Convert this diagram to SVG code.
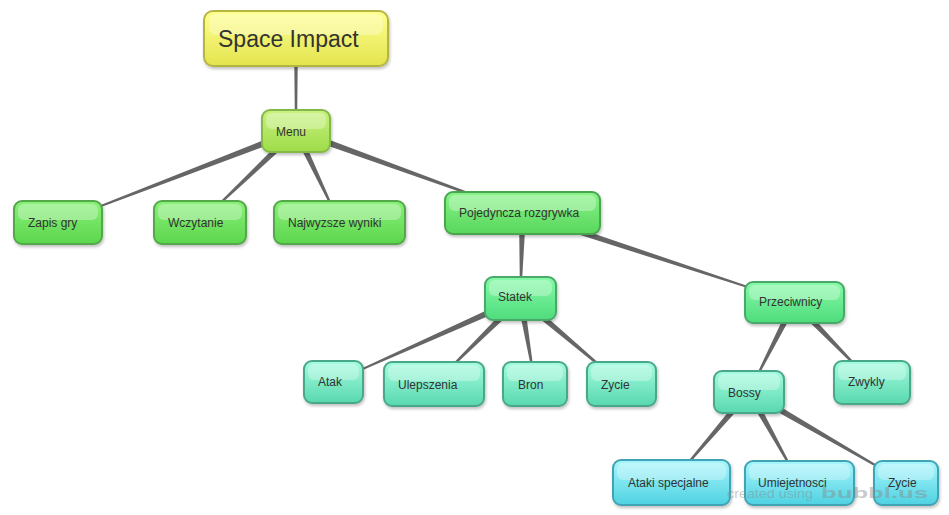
<svg xmlns="http://www.w3.org/2000/svg" width="949" height="515" viewBox="0 0 949 515">
<style>
text{font-family:"Liberation Sans",Arial,sans-serif;font-size:12px;fill:#333}
.n{stroke-width:2}
.g{fill:#fff;fill-opacity:0.3}
.c polygon{fill:#666}
.yel{fill:url(#gy);stroke:#b5b542}
.lim{fill:url(#gl);stroke:#86b84a}
.grn{fill:url(#gg);stroke:#52a84a}
.grp{fill:url(#gp);stroke:#4aa650}
.mnt{fill:url(#gm);stroke:#48a86a}
.tea{fill:url(#gt);stroke:#4aa88a}
.cya{fill:url(#gc);stroke:#40a4b4}
.wm{fill:#888;fill-opacity:0.45}
</style>
<defs>
<filter id="sh" x="-10%" y="-10%" width="130%" height="140%"><feDropShadow dx="1" dy="2" stdDeviation="1.5" flood-color="#000" flood-opacity="0.25"/></filter>
<linearGradient id="gy" x1="0" y1="0" x2="0" y2="1"><stop offset="0" stop-color="#ffff90"/><stop offset="1" stop-color="#e4e44e"/></linearGradient>
<linearGradient id="gl" x1="0" y1="0" x2="0" y2="1"><stop offset="0" stop-color="#c8f280"/><stop offset="1" stop-color="#9edc48"/></linearGradient>
<linearGradient id="gg" x1="0" y1="0" x2="0" y2="1"><stop offset="0" stop-color="#8af07a"/><stop offset="1" stop-color="#5cd64c"/></linearGradient>
<linearGradient id="gp" x1="0" y1="0" x2="0" y2="1"><stop offset="0" stop-color="#88f488"/><stop offset="1" stop-color="#58d65c"/></linearGradient>
<linearGradient id="gm" x1="0" y1="0" x2="0" y2="1"><stop offset="0" stop-color="#88faa8"/><stop offset="1" stop-color="#4edc7c"/></linearGradient>
<linearGradient id="gt" x1="0" y1="0" x2="0" y2="1"><stop offset="0" stop-color="#a6fce0"/><stop offset="1" stop-color="#58d8ae"/></linearGradient>
<linearGradient id="gc" x1="0" y1="0" x2="0" y2="1"><stop offset="0" stop-color="#aaf6fc"/><stop offset="1" stop-color="#4ed2e2"/></linearGradient>
</defs>
<rect width="949" height="515" fill="#fff"/>
<g id="connectors" class="c">
<polygon points="298,38.5 297,131 295,131 294,38.5"/>
<polygon points="294.74,127.73 57.82,222.03 58.18,222.97 297.26,134.27"/>
<polygon points="293.59,128.47 199.66,222.14 200.34,222.86 298.41,133.53"/>
<polygon points="292.84,132.5 339.05,222.71 339.95,222.29 299.16,129.5"/>
<polygon points="294.81,134.29 522.33,213.47 522.67,212.53 297.19,127.71"/>
<polygon points="519,212.92 520,298.49 521,298.51 526,213.08"/>
<polygon points="521.41,216.33 794.34,302.98 794.66,302.03 523.59,209.67"/>
<polygon points="519.07,295.3 333.3,381.54 333.7,382.46 521.93,301.7"/>
<polygon points="518.04,296.01 433.65,383.64 434.35,384.36 522.96,300.99"/>
<polygon points="517.05,299.08 534.51,384.08 535.49,383.92 523.95,297.92"/>
<polygon points="518.24,301.17 621.18,384.38 621.82,383.62 522.76,295.83"/>
<polygon points="791.38,300.91 748.55,391.77 749.45,392.23 797.62,304.09"/>
<polygon points="791.99,304.94 871.64,382.85 872.36,382.15 797.01,300.06"/>
<polygon points="746.34,389.72 671.12,482.18 671.88,482.83 751.66,394.28"/>
<polygon points="745.94,393.7 799.06,483.24 799.94,482.76 752.06,390.3"/>
<polygon points="747.25,395.03 905.75,483.43 906.25,482.57 750.75,388.97"/>
</g>
<g id="root"><rect class="n yel" x="204" y="11" width="184" height="55" rx="9" filter="url(#sh)"/><rect class="g" x="209" y="14" width="174" height="21" rx="7"/><text x="218" y="47" style="font-size:23px">Space Impact</text></g>
<g id="menu"><rect class="n lim" x="262" y="110" width="68" height="42" rx="8" filter="url(#sh)"/><rect class="g" x="266" y="113" width="60" height="16" rx="6"/><text x="276" y="136">Menu</text></g>
<g id="zapis"><rect class="n grn" x="14" y="201" width="88" height="43" rx="8" filter="url(#sh)"/><rect class="g" x="18" y="204" width="80" height="16" rx="6"/><text x="28" y="227">Zapis gry</text></g>
<g id="wczytanie"><rect class="n grn" x="154" y="201" width="92" height="43" rx="8" filter="url(#sh)"/><rect class="g" x="158" y="204" width="84" height="16" rx="6"/><text x="168" y="227">Wczytanie</text></g>
<g id="najwyzsze"><rect class="n grn" x="274" y="201" width="131" height="43" rx="8" filter="url(#sh)"/><rect class="g" x="278" y="204" width="123" height="16" rx="6"/><text x="288" y="227">Najwyzsze wyniki</text></g>
<g id="pojedyncza"><rect class="n grp" x="445" y="192" width="155" height="42" rx="8" filter="url(#sh)"/><rect class="g" x="449" y="195" width="147" height="16" rx="6"/><text x="459" y="217">Pojedyncza rozgrywka</text></g>
<g id="statek"><rect class="n mnt" x="485" y="277" width="71" height="43" rx="8" filter="url(#sh)"/><rect class="g" x="489" y="280" width="63" height="16" rx="6"/><text x="498" y="301">Statek</text></g>
<g id="przeciwnicy"><rect class="n mnt" x="745" y="282" width="99" height="41" rx="8" filter="url(#sh)"/><rect class="g" x="749" y="285" width="91" height="15" rx="6"/><text x="759" y="306">Przeciwnicy</text></g>
<g id="atak"><rect class="n tea" x="304" y="361" width="59" height="42" rx="8" filter="url(#sh)"/><rect class="g" x="308" y="364" width="51" height="16" rx="6"/><text x="318" y="386">Atak</text></g>
<g id="ulepszenia"><rect class="n tea" x="384" y="362" width="100" height="44" rx="8" filter="url(#sh)"/><rect class="g" x="388" y="365" width="92" height="16" rx="6"/><text x="398" y="389">Ulepszenia</text></g>
<g id="bron"><rect class="n tea" x="503" y="362" width="64" height="44" rx="8" filter="url(#sh)"/><rect class="g" x="507" y="365" width="56" height="16" rx="6"/><text x="518" y="389">Bron</text></g>
<g id="zycie1"><rect class="n tea" x="587" y="362" width="69" height="44" rx="8" filter="url(#sh)"/><rect class="g" x="591" y="365" width="61" height="16" rx="6"/><text x="601" y="389">Zycie</text></g>
<g id="bossy"><rect class="n tea" x="714" y="371" width="70" height="42" rx="8" filter="url(#sh)"/><rect class="g" x="718" y="374" width="62" height="16" rx="6"/><text x="728" y="397">Bossy</text></g>
<g id="zwykly"><rect class="n tea" x="834" y="361" width="76" height="43" rx="8" filter="url(#sh)"/><rect class="g" x="838" y="364" width="68" height="16" rx="6"/><text x="848" y="386">Zwykly</text></g>
<g id="ataki"><rect class="n cya" x="613" y="460" width="117" height="45" rx="8" filter="url(#sh)"/><rect class="g" x="617" y="463" width="109" height="17" rx="6"/><text x="628" y="487">Ataki specjalne</text></g>
<g id="umiejetnosci"><rect class="n cya" x="745" y="461" width="109" height="44" rx="8" filter="url(#sh)"/><rect class="g" x="749" y="464" width="101" height="16" rx="6"/><text x="758" y="487">Umiejetnosci</text></g>
<g id="zycie2"><rect class="n cya" x="874" y="461" width="64" height="44" rx="8" filter="url(#sh)"/><rect class="g" x="878" y="464" width="56" height="16" rx="6"/><text x="888" y="487">Zycie</text></g>
<g id="watermark"><text class="wm" x="727" y="498" textLength="86" lengthAdjust="spacingAndGlyphs" style="font-size:13px">created using</text><text class="wm" x="821" y="498" textLength="107" lengthAdjust="spacingAndGlyphs" style="font-size:14px;font-weight:bold">bubbl.us</text></g>
</svg>
